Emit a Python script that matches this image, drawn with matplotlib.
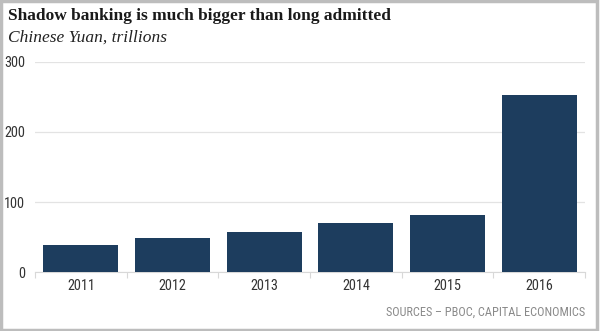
import matplotlib
matplotlib.use("Agg")
import matplotlib.pyplot as plt
from matplotlib.patches import Rectangle

# data (CNY trillions)
years = ["2011", "2012", "2013", "2014", "2015", "2016"]
values = [39, 49, 57, 70, 82, 253]
yticks = [0, 100, 200, 300]

bar_color = "#1d3d5e"
grid_color = "#e3e3e3"
sans = ["DejaVu Sans Condensed", "Roboto Condensed", "Liberation Sans Narrow", "Roboto"]
serif = ["Liberation Serif", "DejaVu Serif"]

fig = plt.figure(figsize=(6, 3.31), dpi=100)
ax = fig.add_axes([0.0583, 0.178, 0.9167, 0.635])

x = list(range(len(years)))
ax.bar(x, values, width=0.82, color=bar_color, zorder=3)

ax.set_xlim(-0.5, len(years) - 0.5)
ax.set_ylim(0, 300)
ax.set_yticks(yticks)
ax.set_yticklabels([str(v) for v in yticks], family=sans, fontsize=10.3, color="#333333")
ax.grid(axis="y", color=grid_color, linewidth=0.9, zorder=0)

# category labels centred, small ticks between categories
ax.set_xticks(x)
ax.set_xticklabels(years, family=sans, fontsize=10.3, color="#333333")
ax.set_xticks([i - 0.5 for i in range(len(years) + 1)], minor=True)
ax.tick_params(axis="x", which="major", length=0, pad=5)
ax.tick_params(axis="x", which="minor", length=4, color="#d8d8d8", width=0.8)
ax.tick_params(axis="y", length=0, pad=7)

for side in ["top", "right", "left"]:
    ax.spines[side].set_visible(False)
ax.spines["bottom"].set_color("#d8d8d8")
ax.spines["bottom"].set_linewidth(0.8)

fig.text(0.013, 0.94, "Shadow banking is much bigger than long admitted",
         family=serif, fontweight="bold", fontsize=12.5, color="#1a1a1a", va="baseline")
fig.text(0.013, 0.875, "Chinese Yuan, trillions",
         family=serif, fontstyle="italic", fontsize=12.5, color="#222222", va="baseline")
fig.text(0.975, 0.045, "SOURCES \u2013 PBOC, CAPITAL ECONOMICS",
         family=sans, fontsize=8.8, color="#8a8a8a", ha="right", va="baseline")

# light grey frame around the image
fig.patches.append(Rectangle((0.002, 0.004), 0.993, 0.993, transform=fig.transFigure,
                             fill=False, edgecolor="#bdbdbd", linewidth=2.5))

fig.savefig("out.png", dpi=100, facecolor="white")
